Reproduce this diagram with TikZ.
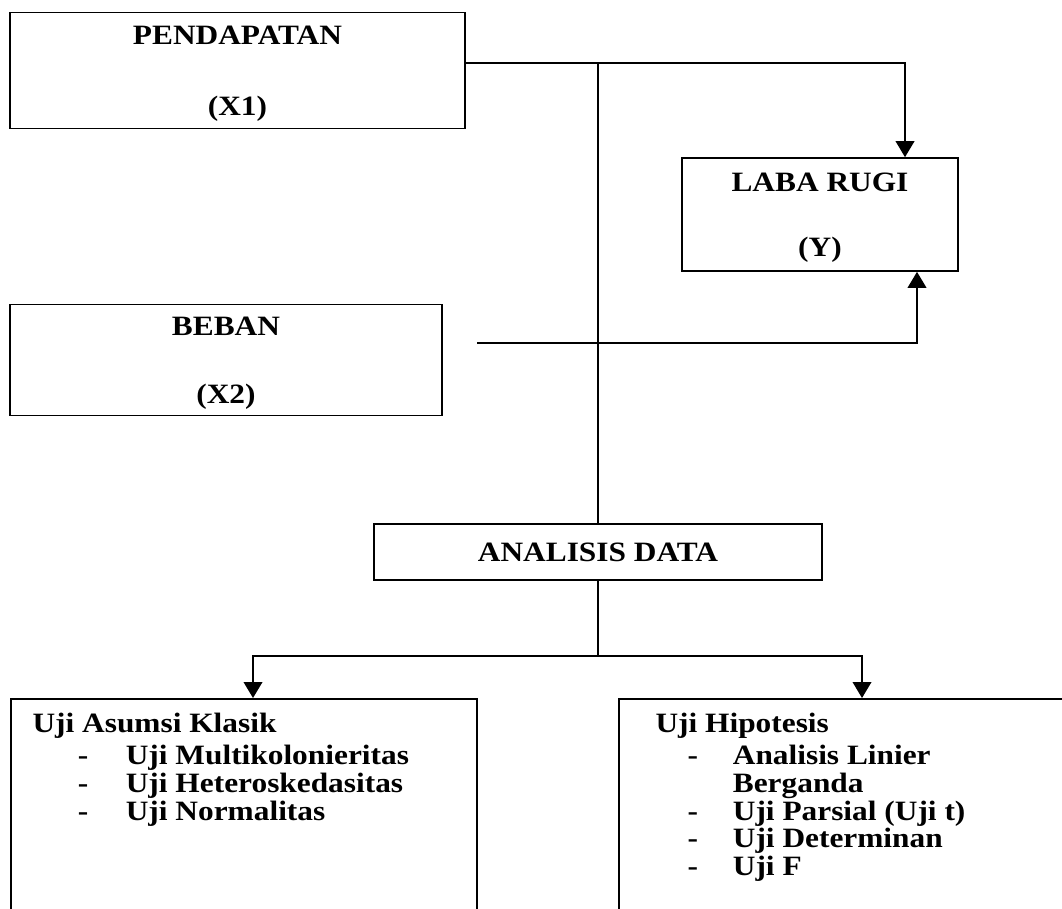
\documentclass[tikz,border=0pt]{standalone}
\usepackage{fontspec}
\setmainfont[FakeStretch=1.12]{Liberation Serif}
\usetikzlibrary{arrows.meta,positioning,calc}

\begin{document}
\begin{tikzpicture}[
    x=0.375pt, y=-0.375pt,
    box/.style={rectangle, draw, line width=0.6pt, inner sep=0pt, align=center, text depth=0pt, font=\fontsize{10.5}{12.5}\selectfont\bfseries},
    list/.style={inner sep=0pt, align=left, font=\fontsize{10.5}{10.4}\selectfont\bfseries},
    link/.style={line width=0.6pt},
    arrow/.style={link, -{Triangle[length=6pt,width=7pt]}}
]
\useasboundingbox (0,0) rectangle (1062,908);
\clip (0,0) rectangle (1062,908);

% Variables
\node[box, minimum width=170.6pt, minimum height=43.5pt] (x1) at (237.5,70.5) {PENDAPATAN\\[14pt](X1)};
\node[box, minimum width=103.5pt, minimum height=42.4pt] (laba) at (820,214.5) {LABA RUGI\\[12pt](Y)};
\node[box, minimum width=162pt, minimum height=41.6pt] (x2) at (226,360) {BEBAN\\[13pt](X2)};

% Analysis
\node[box, minimum width=168pt, minimum height=21pt] (analisis) at (598,552) {ANALISIS DATA};

% Tests
\node[box, anchor=north west, minimum width=174.8pt, minimum height=90pt] (asumsi) at (10,698) {};
\node[box, anchor=north west, minimum width=180pt, minimum height=90pt] (hipotesis) at (618,698) {};
\node[list, anchor=north west] (asumsiTxt) at (32,713) {Uji Asumsi Klasik\\[1.5pt]
    \hspace*{17pt}\makebox[18pt][l]{-}Uji Multikolonieritas\\
    \hspace*{17pt}\makebox[18pt][l]{-}Uji Heteroskedasitas\\
    \hspace*{17pt}\makebox[18pt][l]{-}Uji Normalitas};
\node[list, anchor=north west] (hipotesisTxt) at (655,713) {Uji Hipotesis\\[1.5pt]
    \hspace*{12pt}\makebox[17pt][l]{-}Analisis Linier\\
    \hspace*{29pt}Berganda\\
    \hspace*{12pt}\makebox[17pt][l]{-}Uji Parsial (Uji t)\\
    \hspace*{12pt}\makebox[17pt][l]{-}Uji Determinan\\
    \hspace*{12pt}\makebox[17pt][l]{-}Uji F};

% Connectors
\coordinate (jtop) at (598,63);
\coordinate (bstart) at (477,343);
\coordinate (split) at (598,656);

\draw[arrow] (x1.east |- jtop) -| ($(laba.north)+(85,0)$);
\draw[link] (jtop) -- (jtop |- analisis.north);
\draw[arrow] (bstart) -| ($(laba.south)+(97,0)$);
\draw[link] (analisis.south) -- (split);
\draw[arrow] (split) -| ($(asumsi.north west)+(243,0)$);
\draw[arrow] (split) -| ($(hipotesis.north west)+(244,0)$);

\end{tikzpicture}
\end{document}
